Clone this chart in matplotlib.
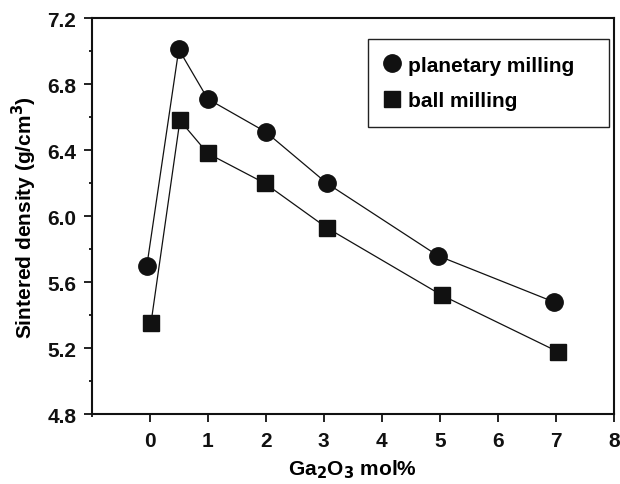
import matplotlib
matplotlib.use("Agg")
import matplotlib.pyplot as plt
from matplotlib.ticker import MultipleLocator
from matplotlib.lines import Line2D

plt.rcParams['font.family'] = ['Liberation Sans', 'DejaVu Sans']
plt.rcParams['font.weight'] = 'bold'

# Data
planetary_x = [-0.05, 0.5, 1.0, 2.0, 3.05, 4.97, 6.97]
planetary_y = [5.70, 7.01, 6.71, 6.51, 6.20, 5.76, 5.48]
ball_x = [0.02, 0.52, 1.0, 1.98, 3.05, 5.04, 7.03]
ball_y = [5.35, 6.58, 6.38, 6.20, 5.93, 5.52, 5.18]
x_ticks = [0, 1, 2, 3, 4, 5, 6, 7, 8]
y_ticks = [4.8, 5.2, 5.6, 6.0, 6.4, 6.8, 7.2]
labels = ['planetary milling', 'ball milling']

fig = plt.figure(figsize=(6.2, 4.85), dpi=100)
ax = fig.add_axes([0.148, 0.1437, 0.842, 0.8171])

c = '#111111'
ax.plot(planetary_x, planetary_y, color=c, lw=0.9, marker='o', ms=12.5,
        mfc=c, mec=c, zorder=3)
ax.plot(ball_x, ball_y, color=c, lw=0.9, marker='s', ms=11,
        mfc=c, mec=c, zorder=3)

ax.set_xlim(-1, 8)
ax.set_ylim(4.8, 7.2)
ax.set_xticks(x_ticks)
ax.set_yticks(y_ticks)
ax.set_yticklabels([f'{v:.1f}' for v in y_ticks])
ax.xaxis.set_minor_locator(MultipleLocator(1))
ax.yaxis.set_minor_locator(MultipleLocator(0.2))
ax.tick_params(axis='both', which='both', direction='out', width=1.3,
               labelsize=15, colors=c)
ax.tick_params(axis='both', which='major', length=6)
ax.tick_params(axis='y', which='minor', length=2.5)
ax.tick_params(axis='x', which='major', pad=6)
ax.tick_params(axis='y', which='major', pad=5)
for lab in ax.get_xticklabels() + ax.get_yticklabels():
    lab.set_fontweight('bold')
for s in ax.spines.values():
    s.set_linewidth(1.5)
    s.set_color(c)

ax.set_xlabel('Ga$_\\mathbf{2}$O$_\\mathbf{3}$ mol%', fontsize=15, fontweight='bold', labelpad=5)
ax.set_ylabel('Sintered density (g/cm$^\\mathbf{3}$)', fontsize=15, fontweight='bold', labelpad=6)

handles = [Line2D([], [], ls='none', marker='o', ms=12.5, mfc=c, mec=c),
           Line2D([], [], ls='none', marker='s', ms=11, mfc=c, mec=c)]
leg = ax.legend(handles, labels, loc='upper left',
                bbox_to_anchor=(0.5296, 0.947, 0.4614, 0.0), mode='expand',
                borderaxespad=0, frameon=True, fancybox=False, framealpha=1,
                edgecolor='#222222', prop={'weight': 'bold', 'size': 15},
                handlelength=0.7, handletextpad=0.4, labelspacing=0.8,
                borderpad=0.8)
leg.get_frame().set_linewidth(1.0)

fig.savefig('out.png', dpi=100)
